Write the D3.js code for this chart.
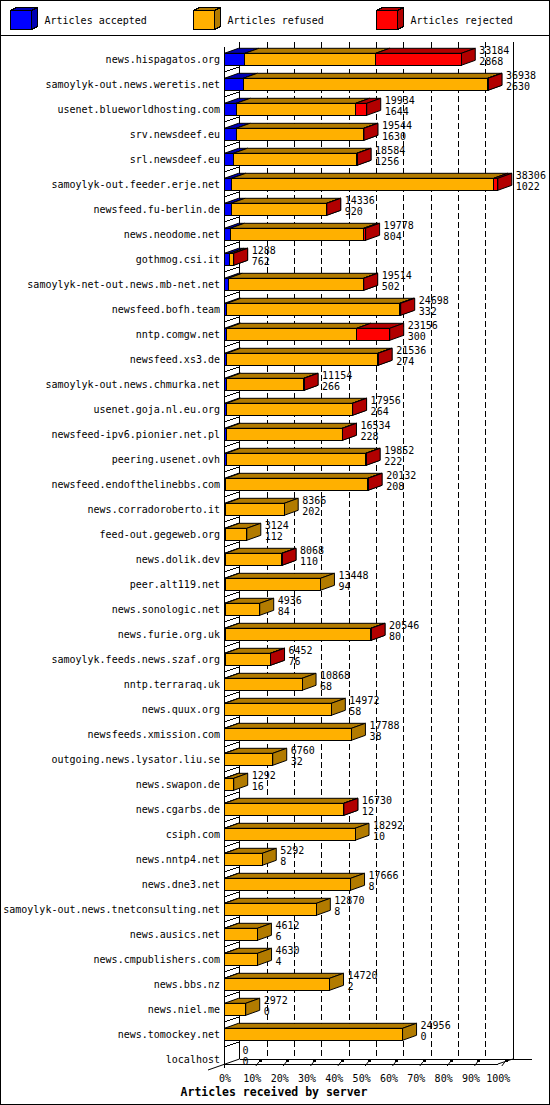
<!DOCTYPE html>
<html>
<head>
<meta charset="utf-8">
<script src="https://cdn.jsdelivr.net/npm/d3@7"></script>
<style>
  body { margin: 0; background: #fff; }
  svg text { font-family: "DejaVu Sans Mono", monospace; font-size: 10px; fill: #000; }
</style>
</head>
<body>
<div id="chart"></div>
<script>
// servers, top to bottom
const hosts = [
  "news.hispagatos.org", "samoylyk-out.news.weretis.net", "usenet.blueworldhosting.com",
  "srv.newsdeef.eu", "srl.newsdeef.eu", "samoylyk-out.feeder.erje.net", "newsfeed.fu-berlin.de",
  "news.neodome.net", "gothmog.csi.it", "samoylyk-net-out.news.mb-net.net", "newsfeed.bofh.team",
  "nntp.comgw.net", "newsfeed.xs3.de", "samoylyk-out.news.chmurka.net", "usenet.goja.nl.eu.org",
  "newsfeed-ipv6.pionier.net.pl", "peering.usenet.ovh", "newsfeed.endofthelinebbs.com",
  "news.corradoroberto.it", "feed-out.gegeweb.org", "news.dolik.dev", "peer.alt119.net",
  "news.sonologic.net", "news.furie.org.uk", "samoylyk.feeds.news.szaf.org", "nntp.terraraq.uk",
  "news.quux.org", "newsfeeds.xmission.com", "outgoing.news.lysator.liu.se", "news.swapon.de",
  "news.cgarbs.de", "csiph.com", "news.nntp4.net", "news.dne3.net",
  "samoylyk-out.news.tnetconsulting.net", "news.ausics.net", "news.cmpublishers.com",
  "news.bbs.nz", "news.niel.me", "news.tomockey.net", "localhost"
];

const accepted = [2868, 2630, 1644, 1630, 1256, 1022, 920, 804, 762, 502, 332, 300, 274, 266,
  264, 228, 222, 208, 202, 112, 110, 94, 84, 80, 76, 68, 58, 38, 32, 16, 12, 10, 8, 8, 8, 6, 4,
  2, 0, 0, 0];

const refused = [18336, 34248, 16750, 17874, 17288, 36724, 13386, 18694, 506, 18982, 24226,
  18236, 21202, 10858, 17652, 16266, 19580, 19864, 8164, 3012, 7938, 13354, 4852, 20436, 6356,
  10800, 14914, 17750, 6728, 1276, 16708, 18282, 5284, 17658, 12862, 4606, 4626, 14718, 2972,
  24956, 0];

const rejected = [11980, 60, 1540, 40, 40, 560, 30, 280, 20, 30, 140, 4620, 60, 30, 40, 40, 50,
  60, 0, 0, 20, 0, 0, 30, 20, 0, 0, 0, 0, 0, 10, 0, 0, 0, 0, 0, 0, 0, 0, 0, 0];

const tickPct = [0, 10, 20, 30, 40, 50, 60, 70, 80, 90, 100];

const seriesKeys = ["accepted", "refused", "rejected"];
const seriesNames = ["Articles accepted", "Articles refused", "Articles rejected"];
const front = { accepted: "#0000ff", refused: "#ffb000", rejected: "#ff0000" };
const shade = { accepted: "#0000b2", refused: "#b27b00", rejected: "#b20000" };

const W = 550, H = 1105;
const plot = { left: 224.5, right: 497.8, top: 42, floor: 1064 };
const wall = { dx: 15, dy: 5 };   // depth of the back plane
const bar = { dx: 14, dy: 5 };    // depth of the bars

const rows = hosts.map((h, i) => ({
  host: h, accepted: accepted[i], refused: refused[i], rejected: rejected[i],
  total: accepted[i] + refused[i] + rejected[i]
}));

const svg = d3.select("#chart").append("svg")
  .attr("width", W)
  .attr("height", H)
  .style("shape-rendering", "crispEdges");

// frame + legend separator
svg.append("rect")
  .attr("x", 0.5).attr("y", 0.5)
  .attr("width", W - 1).attr("height", H - 1)
  .attr("fill", "#fff").attr("stroke", "#000");

svg.append("line")
  .attr("x1", 0).attr("x2", W).attr("y1", 35.5).attr("y2", 35.5)
  .attr("stroke", "#000");

// legend
const legendX = [10.5, 193.5, 376.5];
const legend = svg.selectAll(".legend")
  .data(seriesKeys)
  .enter()
  .append("g")
  .attr("class", "legend")
  .attr("transform", (d, i) => `translate(${legendX[i]},10.5)`);

legend.append("path")
  .attr("d", "M0,0 L6,-3 L27,-3 L21,0 Z")
  .attr("fill", d => shade[d]).attr("stroke", "#000");
legend.append("path")
  .attr("d", "M21,0 L27,-3 L27,16 L21,19 Z")
  .attr("fill", d => shade[d]).attr("stroke", "#000");
legend.append("rect")
  .attr("width", 21).attr("height", 19)
  .attr("fill", d => front[d]).attr("stroke", "#000");
legend.append("text")
  .attr("x", 34)
  .attr("y", 13)
  .text((d, i) => seriesNames[i]);

// scales
const x = d3.scaleLinear()
  .domain([0, d3.max(rows, d => d.total)])
  .range([plot.left, plot.right]);

const xPct = d3.scaleLinear()
  .domain([0, 100])
  .range([plot.left, plot.right]);

const y = d3.scaleBand()
  .domain(hosts)
  .range([46.8, 46.8 + hosts.length * 25])
  .paddingInner(0.52)
  .paddingOuter(0.26);

const bh = y.bandwidth();

// back plane: walls and dashed grid
const back = svg.append("g").attr("stroke", "#000").attr("fill", "none");

back.selectAll(".grid")
  .data(tickPct.slice(1, -1))
  .enter()
  .append("line")
  .attr("x1", d => Math.round(xPct(d) + wall.dx) + 0.5)
  .attr("x2", d => Math.round(xPct(d) + wall.dx) + 0.5)
  .attr("y1", plot.top).attr("y2", plot.floor - wall.dy)
  .attr("stroke-dasharray", "6,3");

back.append("line")
  .attr("x1", plot.left + wall.dx).attr("x2", plot.left + wall.dx)
  .attr("y1", plot.top).attr("y2", plot.floor - wall.dy);
back.append("line")
  .attr("x1", Math.round(plot.right + wall.dx) + 0.5).attr("x2", Math.round(plot.right + wall.dx) + 0.5)
  .attr("y1", plot.top).attr("y2", plot.floor - wall.dy);

// left wall: front edge and row separators
back.append("line")
  .attr("x1", plot.left).attr("x2", plot.left)
  .attr("y1", 47).attr("y2", plot.floor + 4);

back.selectAll(".sep")
  .data(hosts.slice(1))
  .enter()
  .append("line")
  .attr("x1", plot.left).attr("x2", plot.left + wall.dx)
  .attr("y1", d => y(d) - 6.5).attr("y2", d => y(d) - 6.5 - wall.dy);

// floor
back.append("line")
  .attr("x1", plot.left).attr("x2", plot.right)
  .attr("y1", plot.floor + 0.5).attr("y2", plot.floor + 0.5);
back.append("line")
  .attr("x1", plot.left + wall.dx).attr("x2", 532)
  .attr("y1", plot.floor - wall.dy + 0.5).attr("y2", plot.floor - wall.dy + 0.5);
back.append("line")
  .attr("x1", 208).attr("x2", plot.left + wall.dx)
  .attr("y1", plot.floor + 6).attr("y2", plot.floor - wall.dy)
  .style("shape-rendering", "auto");
back.append("line")
  .attr("x1", plot.right).attr("x2", plot.right + wall.dx)
  .attr("y1", plot.floor).attr("y2", plot.floor - wall.dy)
  .style("shape-rendering", "auto");

// little 3d tick marks on the floor
const ticks = svg.append("g");
ticks.selectAll("line")
  .data(tickPct.slice(1))
  .enter()
  .append("line")
  .attr("x1", d => xPct(d) + 4).attr("x2", d => xPct(d) + 7)
  .attr("y1", plot.floor + 2).attr("y2", plot.floor - 2)
  .attr("stroke", "#000")
  .style("shape-rendering", "auto");
ticks.selectAll("rect")
  .data(tickPct.slice(1))
  .enter()
  .append("rect")
  .attr("x", d => Math.round(xPct(d) + 7)).attr("y", plot.floor - 4)
  .attr("width", 3).attr("height", 2)
  .attr("fill", "#000");

// bars
const stacked = d3.stack().keys(seriesKeys)(rows);

const segs = [];
stacked.forEach(layer => {
  layer.forEach(d => {
    if (d[1] - d[0] > 0) segs.push({ key: layer.key, host: d.data.host, a: d[0], b: d[1] });
  });
});

const bars = svg.append("g").attr("stroke", "#000");

const segG = bars.selectAll(".seg")
  .data(segs)
  .enter()
  .append("g")
  .attr("class", "seg");

segG.append("path")   // top face
  .attr("d", d => {
    const xa = x(d.a), xb = x(d.b), t = y(d.host);
    return `M${xa},${t} L${xa + bar.dx},${t - bar.dy} L${xb + bar.dx},${t - bar.dy} L${xb},${t} Z`;
  })
  .attr("fill", d => shade[d.key])
  .style("shape-rendering", "auto");

segG.append("path")   // side face
  .attr("d", d => {
    const xb = x(d.b), t = y(d.host);
    return `M${xb},${t} L${xb + bar.dx},${t - bar.dy} L${xb + bar.dx},${t + bh - bar.dy} L${xb},${t + bh} Z`;
  })
  .attr("fill", d => shade[d.key])
  .style("shape-rendering", "auto");

segG.append("rect")   // front face
  .attr("x", d => x(d.a))
  .attr("y", d => y(d.host))
  .attr("width", d => x(d.b) - x(d.a))
  .attr("height", bh)
  .attr("fill", d => front[d.key]);

// value labels: total over accepted
const vals = svg.append("g").selectAll("g")
  .data(rows)
  .enter()
  .append("g")
  .attr("transform", d => `translate(${x(d.total) + bar.dx + 4},${y(d.host)})`);

vals.append("text").attr("y", 0.5).text(d => d.total);
vals.append("text").attr("y", 11.5).text(d => d.accepted);

// category axis
const yAxis = svg.append("g")
  .attr("transform", "translate(220,0)")
  .call(d3.axisLeft(y).tickSize(0).tickPadding(0));
yAxis.select(".domain").remove();
yAxis.selectAll("text")
  .attr("x", 0)
  .attr("dy", null)
  .attr("y", bh / 2 - 2)
  .attr("font-family", null)
  .attr("font-size", null);

// percent axis
const xAxis = svg.append("g")
  .attr("transform", "translate(0,1082)")
  .call(d3.axisBottom(xPct).tickValues(tickPct).tickFormat(d => d + "%").tickSize(0).tickPadding(0));
xAxis.select(".domain").remove();
xAxis.selectAll("text")
  .attr("y", 0)
  .attr("dy", null)
  .attr("font-family", null)
  .attr("font-size", null);

svg.append("text")
  .attr("x", 274)
  .attr("y", 1096)
  .attr("text-anchor", "middle")
  .style("font-weight", "bold")
  .style("font-size", "11.5px")
  .text("Articles received by server");
</script>
</body>
</html>
